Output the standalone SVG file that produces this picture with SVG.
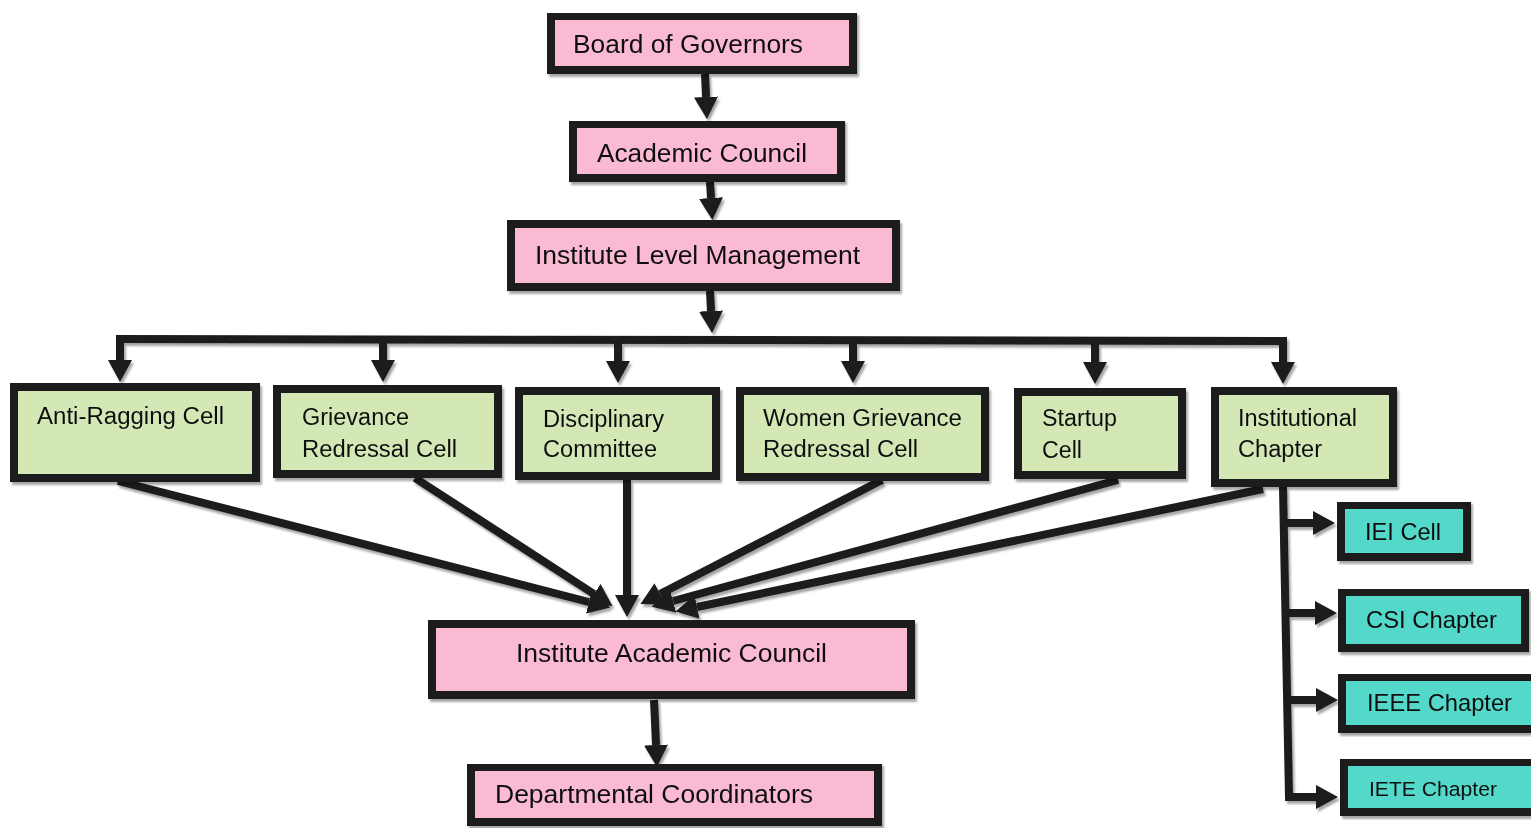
<svg xmlns="http://www.w3.org/2000/svg" width="1531" height="828" viewBox="0 0 1531 828">
<style>
.box{stroke:#1b1b1b;stroke-width:8}
.pink{fill:#fbbad3}
.green{fill:#d3e8b5}
.teal{fill:#52d8c9}
text{font-family:"Liberation Sans",Arial,Helvetica,sans-serif;fill:#111}
.big{font-size:25.5px}
.mid{font-size:23px}
.ch{font-size:24px}
.sm{font-size:20.5px}
.ln{fill:none;stroke:#1b1b1b;stroke-width:8}
.ar{marker-end:url(#ah)}
</style>
<defs>
<filter id="sh" x="-5%" y="-5%" width="110%" height="120%">
<feDropShadow dx="2" dy="3" stdDeviation="0.8" flood-color="#000" flood-opacity="0.35"/>
</filter>
<marker id="ah" viewBox="0 0 22 24" markerWidth="22" markerHeight="24" refX="0" refY="12" orient="auto" markerUnits="userSpaceOnUse">
<path d="M0,0 L22,12 L0,24 z" fill="#1b1b1b"/>
</marker>
</defs>

<g id="connectors" filter="url(#sh)">
<path class="ln ar" d="M705,74 L706,97"/>
<path class="ln ar" d="M710,182 L711,198"/>
<path class="ln ar" d="M710,291 L711,311"/>
<path class="ln" d="M116,339 L1287,341" stroke-linejoin="round"/>
<path class="ln ar" d="M120,337 L120,360"/>
<path class="ln ar" d="M383,338 L383,360"/>
<path class="ln ar" d="M618,339 L618,361"/>
<path class="ln ar" d="M853,340 L853,361"/>
<path class="ln ar" d="M1095,340 L1095,362"/>
<path class="ln ar" d="M1283,337 L1283,362"/>
<path class="ln ar" d="M118,481 L589,602"/>
<path class="ln ar" d="M415,478 L594,594"/>
<path class="ln ar" d="M627,480 L627,595"/>
<path class="ln ar" d="M882,480 L660,594"/>
<path class="ln ar" d="M1118,480 L673,601"/>
<path class="ln ar" d="M1263,489 L697,607"/>
<path class="ln ar" d="M654,700 L656,745"/>
<path class="ln ar" d="M1283,487 L1289,797 L1316,797" stroke-width="7"/>
<path class="ln ar" d="M1287,523 L1313,523"/>
<path class="ln ar" d="M1288,613 L1315,613"/>
<path class="ln ar" d="M1290,700 L1316,700"/>
</g>

<g id="board" filter="url(#sh)">
<rect class="box pink" x="551" y="16" width="302" height="54"/>
<text class="big" x="573" y="53" textLength="230" lengthAdjust="spacingAndGlyphs">Board of Governors</text>
</g>
<g id="academic-council" filter="url(#sh)">
<rect class="box pink" x="573" y="124" width="268" height="54"/>
<text class="big" x="597" y="162" textLength="210" lengthAdjust="spacingAndGlyphs">Academic Council</text>
</g>
<g id="ilm" filter="url(#sh)">
<rect class="box pink" x="511" y="224" width="385" height="63"/>
<text class="big" x="535" y="264" textLength="325" lengthAdjust="spacingAndGlyphs">Institute Level Management</text>
</g>

<g id="anti-ragging" filter="url(#sh)">
<rect class="box green" x="14" y="387" width="242" height="91"/>
<text class="mid" x="37" y="424" textLength="187" lengthAdjust="spacingAndGlyphs">Anti-Ragging Cell</text>
</g>
<g id="grievance" filter="url(#sh)">
<rect class="box green" x="277" y="389" width="221" height="85"/>
<text class="mid" x="302" y="425" textLength="107" lengthAdjust="spacingAndGlyphs">Grievance</text>
<text class="mid" x="302" y="457" textLength="155" lengthAdjust="spacingAndGlyphs">Redressal Cell</text>
</g>
<g id="disciplinary" filter="url(#sh)">
<rect class="box green" x="519" y="391" width="197" height="85"/>
<text class="mid" x="543" y="427" textLength="121" lengthAdjust="spacingAndGlyphs">Disciplinary</text>
<text class="mid" x="543" y="457" textLength="114" lengthAdjust="spacingAndGlyphs">Committee</text>
</g>
<g id="women" filter="url(#sh)">
<rect class="box green" x="740" y="391" width="245" height="86"/>
<text class="mid" x="763" y="426" textLength="199" lengthAdjust="spacingAndGlyphs">Women Grievance</text>
<text class="mid" x="763" y="457" textLength="155" lengthAdjust="spacingAndGlyphs">Redressal Cell</text>
</g>
<g id="startup" filter="url(#sh)">
<rect class="box green" x="1018" y="392" width="164" height="83"/>
<text class="mid" x="1042" y="426" textLength="75" lengthAdjust="spacingAndGlyphs">Startup</text>
<text class="mid" x="1042" y="458" textLength="40" lengthAdjust="spacingAndGlyphs">Cell</text>
</g>
<g id="institutional" filter="url(#sh)">
<rect class="box green" x="1215" y="391" width="178" height="92"/>
<text class="mid" x="1238" y="426" textLength="119" lengthAdjust="spacingAndGlyphs">Institutional</text>
<text class="mid" x="1238" y="457" textLength="84" lengthAdjust="spacingAndGlyphs">Chapter</text>
</g>

<g id="iac" filter="url(#sh)">
<rect class="box pink" x="432" y="624" width="479" height="71"/>
<text class="big" x="516" y="662" textLength="311" lengthAdjust="spacingAndGlyphs">Institute Academic Council</text>
</g>
<g id="dc" filter="url(#sh)">
<rect class="box pink" x="471" y="767" width="407" height="55"/>
<text class="big" x="495" y="803" textLength="318" lengthAdjust="spacingAndGlyphs">Departmental Coordinators</text>
</g>

<g id="iei" filter="url(#sh)">
<rect class="box teal" x="1341" y="505" width="126" height="52"/>
<text class="ch" x="1365" y="540" textLength="76" lengthAdjust="spacingAndGlyphs">IEI Cell</text>
</g>
<g id="csi" filter="url(#sh)">
<rect class="box teal" x="1342" y="592" width="183" height="56"/>
<text class="ch" x="1366" y="628" textLength="131" lengthAdjust="spacingAndGlyphs">CSI Chapter</text>
</g>
<g id="ieee" filter="url(#sh)">
<rect class="box teal" x="1342" y="677" width="200" height="52"/>
<text class="ch" x="1367" y="711" textLength="145" lengthAdjust="spacingAndGlyphs">IEEE Chapter</text>
</g>
<g id="iete" filter="url(#sh)">
<rect class="box teal" x="1344" y="762" width="200" height="50"/>
<text class="sm" x="1369" y="796" textLength="128" lengthAdjust="spacingAndGlyphs">IETE Chapter</text>
</g>
</svg>
